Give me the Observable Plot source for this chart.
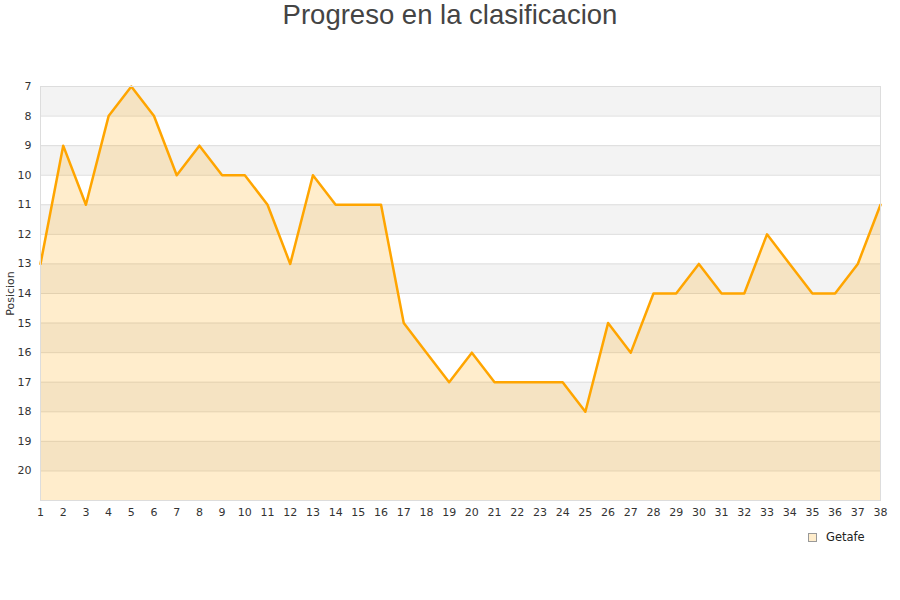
<!DOCTYPE html>
<html>
<head>
<meta charset="utf-8">
<script src="https://cdn.jsdelivr.net/npm/d3@7"></script>
<script src="https://cdn.jsdelivr.net/npm/@observablehq/plot@0.6"></script>
<style>
  body { margin: 0; background: #fff; }
  #title { height: 40px; text-align: center; font-family: "Liberation Sans", Arial, sans-serif; font-size: 27.5px; color: #444; line-height: 30px; }
  #legend { position: absolute; left: 808px; top: 530px; font-family: "DejaVu Sans", sans-serif; font-size: 11.5px; color: #222; }
  #legend span.box { display: inline-block; width: 7px; height: 7px; background: #ffedcc; border: 1px solid #999; margin-right: 9px; vertical-align: -1px; }
</style>
</head>
<body>
<div id="title">Progreso en la clasificacion</div>
<div id="chart"></div>
<div id="legend"><span class="box"></span>Getafe</div>
<script>
const jornadas = d3.range(1, 39)
const posiciones = [13, 9, 11, 8, 7, 8, 10, 9, 10, 10, 11, 13, 10, 11, 11, 11, 15, 16, 17, 16,
  17, 17, 17, 17, 18, 15, 16, 14, 14, 13, 14, 14, 12, 13, 14, 14, 13, 11]
const bandas = [7, 9, 11, 13, 15, 17, 19]
const yTicks = d3.range(7, 21)

const data = jornadas.map((j, i) => ({jornada: j, pos: posiciones[i]}))

const chart = Plot.plot({
  width: 900,
  height: 480,
  marginTop: 46,
  marginLeft: 40,
  marginRight: 20,
  marginBottom: 20,
  style: {fontFamily: "DejaVu Sans, sans-serif", fontSize: "11px", color: "#333"},
  x: {domain: [1, 38], ticks: jornadas, tickSize: 0, tickPadding: 8, label: null},
  y: {domain: [7, 21], reverse: true, ticks: yTicks, tickSize: 0, tickPadding: 9, label: null},
  marks: [
    Plot.rectY(bandas, {x1: 1, x2: 38, y1: d => d, y2: d => d + 1, fill: "#f3f3f3"}),
    Plot.ruleY(d3.range(7, 22), {stroke: "#dddddd"}),
    Plot.areaY(data, {x: "jornada", y1: 21, y2: "pos", fill: "#ffa500", fillOpacity: 0.2}),
    Plot.line(data, {x: "jornada", y: "pos", stroke: "#ffa500", strokeWidth: 2.5}),
    Plot.frame({stroke: "#dddddd"}),
    Plot.text(["Posicion"], {frameAnchor: "left", textAnchor: "middle", dx: -30, rotate: -90, text: d => d, fontSize: 11, fill: "#333"})
  ]
})
document.getElementById("chart").append(chart)
</script>
</body>
</html>
